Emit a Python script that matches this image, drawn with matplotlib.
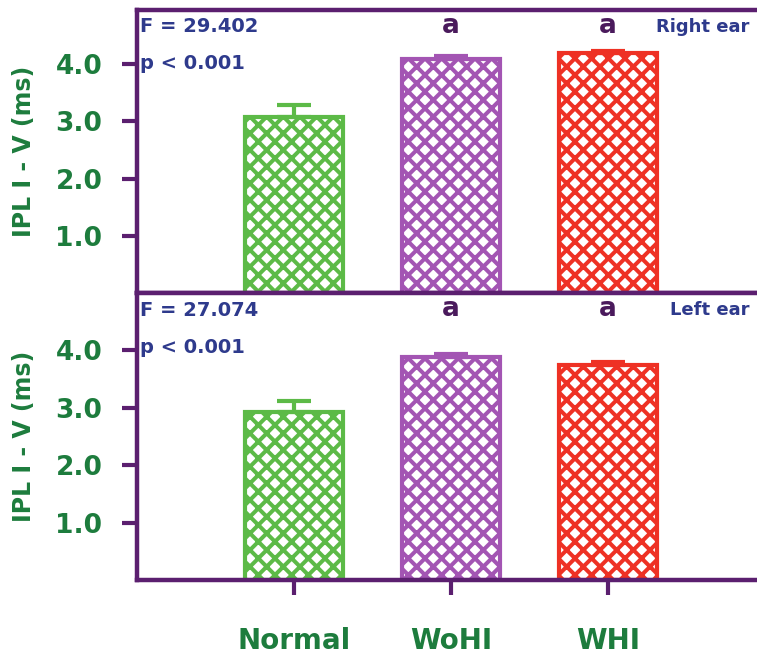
import matplotlib
matplotlib.use("Agg")
import matplotlib.pyplot as plt

categories = ["Normal", "WoHI", "WHI"]
right_means = [3.08, 4.10, 4.19]
right_errs = [0.20, 0.05, 0.05]
left_means = [2.93, 3.88, 3.74]
left_errs = [0.18, 0.05, 0.05]
yticks = [1.0, 2.0, 3.0, 4.0]
right_stats = ["F = 29.402", "p < 0.001"]
left_stats = ["F = 27.074", "p < 0.001"]
sig_letters = ["", "a", "a"]

bar_colors = ["#5cba47", "#a355b3", "#ee3124"]
spine_col = "#5b1f6f"
green_txt = "#1d7c3d"
navy = "#2e3a8c"
letter_col = "#4a1a5c"

plt.rcParams["hatch.linewidth"] = 2.9
plt.rcParams["font.family"] = ["DejaVu Sans"]

fig = plt.figure(figsize=(7.57, 6.61), dpi=100)
W, H = 757, 661
left = 137 / W
width = (W - 137) / W
ax_top = fig.add_axes([left, 1 - 293 / H, width, (293 - 10) / H])
ax_bot = fig.add_axes([left, 1 - 580 / H, width, (580 - 293) / H])

x = list(range(len(categories)))

def draw(ax, means, errs, stats, label, ylim_top, show_x):
    for i in x:
        ax.bar(i, means[i], width=0.62, color="white", edgecolor=bar_colors[i],
               hatch="xx", linewidth=3, zorder=2)
        ax.errorbar(i, means[i], yerr=[[0], [errs[i]]], color=bar_colors[i],
                    capsize=12, capthick=3, elinewidth=3, zorder=3)
        if sig_letters[i]:
            ax.text(i, ylim_top - 0.28, sig_letters[i], ha="center", va="center",
                    fontsize=19, fontweight="bold", color=letter_col)
    ax.set_xlim(-1, 2.95)
    ax.set_ylim(0, ylim_top)
    ax.set_yticks(yticks)
    ax.set_yticklabels([f"{v:.1f}" for v in yticks], fontsize=19,
                       fontweight="bold", color=green_txt)
    ax.tick_params(axis="y", direction="out", length=11, width=3,
                   color=spine_col, pad=14)
    for s in ["left", "top", "bottom"]:
        ax.spines[s].set_color(spine_col)
        ax.spines[s].set_linewidth(3.2)
    ax.spines["right"].set_visible(False)
    ax.set_ylabel("IPL I - V (ms)", fontsize=17, fontweight="bold",
                  color=green_txt)
    ax.text(0.005, 0.94, stats[0], transform=ax.transAxes, ha="left", va="center",
            fontsize=14, fontweight="bold", color=navy)
    ax.text(0.005, 0.81, stats[1], transform=ax.transAxes, ha="left", va="center",
            fontsize=14, fontweight="bold", color=navy)
    ax.text(0.988, 0.94, label, transform=ax.transAxes, ha="right", va="center",
            fontsize=13, fontweight="bold", color=navy)
    if show_x:
        ax.set_xticks(x)
        ax.set_xticklabels(categories, fontsize=20, fontweight="bold", color=green_txt)
        ax.tick_params(axis="x", direction="out", length=11, width=3,
                       color=spine_col, pad=23)
    else:
        ax.set_xticks([])

draw(ax_top, right_means, right_errs, right_stats, "Right ear", 4.95, False)
draw(ax_bot, left_means, left_errs, left_stats, "Left ear", 5.0, True)
ax_top.yaxis.set_label_coords(-0.163, 0.5)
ax_bot.yaxis.set_label_coords(-0.163, 0.5)

fig.savefig("out.png", dpi=100)
